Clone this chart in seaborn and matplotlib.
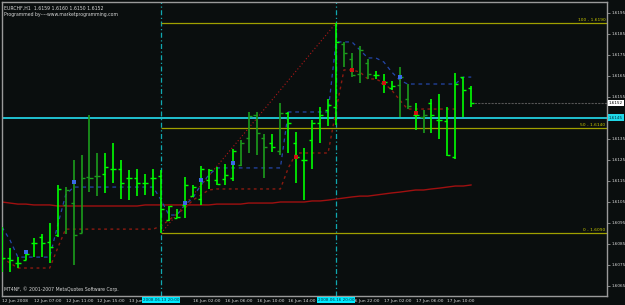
import numpy as np
import pandas as pd
import matplotlib
matplotlib.use("Agg")
import matplotlib.pyplot as plt
import matplotlib.transforms as mtransforms
import seaborn as sns

# ---------------- data ----------------
title_line = "EURCHF,H1  1.6159 1.6160 1.6150 1.6152"
sub_line = "Programmed by----www.marketprogramming.com"
copyright_line = "MT4NF, \u00a9 2001-2007 MetaQuotes Software Corp."

opens = [1.60773, 1.60781, 1.60760, 1.60773, 1.60852, 1.60884, 1.60860, 1.60892, 1.61034, 1.61042,
         1.60903, 1.61169, 1.61172, 1.61180, 1.61208, 1.61208, 1.61161, 1.61161, 1.61140, 1.61161,
         1.61172, 1.60963, 1.60974, 1.61034, 1.61077, 1.61061, 1.61153, 1.61153, 1.61156, 1.61161,
         1.61224, 1.61351, 1.61462, 1.61351, 1.61331, 1.61293, 1.61470, 1.61331, 1.61248, 1.61343,
         1.61423, 1.61486, 1.61502, 1.61800, 1.61727, 1.61660, 1.61711, 1.61652, 1.61613, 1.61589,
         1.61605, 1.61541, 1.61462, 1.61454, 1.61518, 1.61439, 1.61436, 1.61261, 1.61642, 1.61590]
highs = [1.60931, 1.60828, 1.60789, 1.60820, 1.60876, 1.60899, 1.60947, 1.61129, 1.61121, 1.61248,
         1.61272, 1.61462, 1.61280, 1.61280, 1.61331, 1.61251, 1.61201, 1.61208, 1.61180, 1.61208,
         1.61201, 1.61029, 1.61018, 1.61169, 1.61129, 1.61220, 1.61208, 1.61216, 1.61229, 1.61299,
         1.61346, 1.61478, 1.61478, 1.61372, 1.61372, 1.61518, 1.61478, 1.61381, 1.61308, 1.61438,
         1.61499, 1.61541, 1.61900, 1.61811, 1.61756, 1.61790, 1.61727, 1.61671, 1.61657, 1.61624,
         1.61692, 1.61608, 1.61518, 1.61486, 1.61541, 1.61562, 1.61499, 1.61661, 1.61642, 1.61600]
lows = [1.60717, 1.60717, 1.60733, 1.60773, 1.60789, 1.60789, 1.60757, 1.60884, 1.60899, 1.60749,
        1.60903, 1.61098, 1.61077, 1.61090, 1.61140, 1.61061, 1.61058, 1.61077, 1.61082, 1.61077,
        1.60900, 1.60960, 1.60971, 1.60971, 1.61074, 1.61034, 1.61109, 1.61129, 1.61129, 1.61150,
        1.61220, 1.61283, 1.61272, 1.61161, 1.61288, 1.61272, 1.61280, 1.61140, 1.61058, 1.61208,
        1.61331, 1.61410, 1.61415, 1.61692, 1.61641, 1.61613, 1.61632, 1.61632, 1.61568, 1.61581,
        1.61454, 1.61489, 1.61391, 1.61378, 1.61378, 1.61347, 1.61269, 1.61252, 1.61455, 1.61500]
closes = [1.60781, 1.60773, 1.60760, 1.60801, 1.60852, 1.60852, 1.60836, 1.61110, 1.61106, 1.60892,
          1.61161, 1.61161, 1.61172, 1.61216, 1.61204, 1.61140, 1.61161, 1.61137, 1.61140, 1.61161,
          1.61018, 1.61029, 1.60980, 1.61129, 1.61121, 1.61208, 1.61201, 1.61134, 1.61177, 1.61291,
          1.61331, 1.61457, 1.61375, 1.61312, 1.61312, 1.61470, 1.61423, 1.61264, 1.61248, 1.61426,
          1.61462, 1.61510, 1.61811, 1.61756, 1.61652, 1.61771, 1.61660, 1.61652, 1.61621, 1.61600,
          1.61645, 1.61505, 1.61462, 1.61462, 1.61462, 1.61439, 1.61272, 1.61608, 1.61581, 1.61520]

moving_avg = [1.61049, 1.61044, 1.61039, 1.61039, 1.61035, 1.61035, 1.61035, 1.61030, 1.61030, 1.61030,
              1.61030, 1.61030, 1.61030, 1.61030, 1.61030, 1.61030, 1.61030, 1.61030, 1.61035, 1.61035,
              1.61035, 1.61035, 1.61035, 1.61035, 1.61035, 1.61035, 1.61035, 1.61039, 1.61039, 1.61039,
              1.61039, 1.61044, 1.61044, 1.61044, 1.61044, 1.61049, 1.61049, 1.61049, 1.61049, 1.61054,
              1.61054, 1.61058, 1.61063, 1.61068, 1.61073, 1.61077, 1.61077, 1.61082, 1.61087, 1.61092,
              1.61096, 1.61101, 1.61106, 1.61106, 1.61111, 1.61115, 1.61120, 1.61125, 1.61125, 1.61130]

channel_upper = [1.60930, 1.60868, 1.60787, 1.60787, 1.60787, 1.60787, 1.60787, 1.60939, 1.61082, 1.61120,
                 1.61120, 1.61120, 1.61120, 1.61120, 1.61120, 1.61120, 1.61120, 1.61120, 1.61120, 1.61120,
                 1.61058, 1.60987, 1.60987, 1.61035, 1.61068, 1.61130, 1.61177, 1.61211, 1.61211, 1.61211,
                 1.61211, 1.61211, 1.61211, 1.61211, 1.61211, 1.61211, 1.61477, 1.61477, 1.61477, 1.61477,
                 1.61477, 1.61477, 1.61810, 1.61810, 1.61810, 1.61772, 1.61734, 1.61734, 1.61715, 1.61667,
                 1.61629, 1.61610, 1.61610, 1.61610, 1.61610, 1.61610, 1.61610, 1.61610, 1.61643, 1.61643]
channel_lower = [1.60783, 1.60759, 1.60735, 1.60735, 1.60735, 1.60735, 1.60735, 1.60830, 1.60920, 1.60920,
                 1.60920, 1.60920, 1.60920, 1.60920, 1.60920, 1.60920, 1.60920, 1.60920, 1.60920, 1.60920,
                 1.60935, 1.60963, 1.60992, 1.61020, 1.61058, 1.61082, 1.61106, 1.61111, 1.61111, 1.61111,
                 1.61111, 1.61111, 1.61111, 1.61111, 1.61111, 1.61111, 1.61211, 1.61282, 1.61282, 1.61282,
                 1.61282, 1.61282, 1.61486, 1.61677, 1.61677, 1.61667, 1.61634, 1.61634, 1.61615, 1.61581,
                 1.61534, 1.61491, 1.61491, 1.61491, 1.61491, 1.61491, 1.61491, 1.61491, np.nan, np.nan]

dark_bars = [8, 9, 10, 11, 12, 30, 31, 32, 33, 35, 43, 44, 45, 46, 50, 51, 53]

blue_dot_bars = [3, 9, 23, 25, 29, 50]
blue_dot_prices = [1.60811, 1.61144, 1.61044, 1.61153, 1.61234, 1.61643]
red_dot_bars = [37, 44, 48, 52]
red_dot_prices = [1.61263, 1.61677, 1.61615, 1.61472]

fib_levels = [1.6190, 1.6140, 1.6090]
fib_names = ["100", "50", "0"]
fib_start_bar = 20
fib_end_bar = 42

cyan_price = 1.6145
bid_price = 1.6152
vline_bars = [20, 42]
vline_labels = ["2008.06.13 20:00", "2008.06.16 20:00"]

time_tick_bars = [0, 4, 8, 12, 16, 24, 28, 32, 36, 44, 48, 52, 56]
time_tick_labels = ["12 Jun 2008", "12 Jun 07:00", "12 Jun 11:00", "12 Jun 15:00", "13 Jun 19:00",
                    "16 Jun 02:00", "16 Jun 06:00", "16 Jun 10:00", "16 Jun 14:00", "16 Jun 22:00",
                    "17 Jun 02:00", "17 Jun 06:00", "17 Jun 10:00"]
price_ticks = [1.6195, 1.6185, 1.6175, 1.6165, 1.6155, 1.6135, 1.6125, 1.6115,
               1.6105, 1.6095, 1.6085, 1.6075, 1.6065]

# ---------------- style ----------------
sns.set_theme(style="dark")
plt.rcParams['font.family'] = ['DejaVu Sans']
BG = '#0a0e0e'
FG = '#d8d8d8'
SPINE = '#9a9a9a'
LIME = '#00ff00'
DARKG = '#1c9c1c'

fig = plt.figure(figsize=(6.25, 3.05), dpi=100, facecolor=BG)
ax = fig.add_axes([2 / 625, 9 / 305, 605 / 625, 294 / 305])
ax.set_facecolor(BG)
ax.grid(False)
for s in ax.spines.values():
    s.set_color(SPINE)
    s.set_linewidth(1.0)

n = len(opens)
xs = np.arange(n)
df = pd.DataFrame({"bar": xs, "open": opens, "high": highs, "low": lows, "close": closes,
                   "ma": moving_avg, "up": channel_upper, "lo": channel_lower})

# cyan horizontal & vertical lines
ax.axhline(cyan_price, color='#20c0d0', lw=1.4, zorder=1)
for b in vline_bars:
    ax.axvline(b, color='#10a8b0', lw=0.9, linestyle=(0, (4, 2, 1, 2)), zorder=1)

# fibonacci
for lev, nm in zip(fib_levels, fib_names):
    ax.hlines(lev, fib_start_bar, 76.5, color='#a0a000', lw=0.9, zorder=1)
    ax.text(75.85, lev + 0.00005, f"{nm} - {lev:.4f}", color='#c8c800', fontsize=3.2,
            ha='right', va='bottom', zorder=6)
sns.lineplot(x=[fib_start_bar, fib_end_bar], y=[fib_levels[2], fib_levels[0]], ax=ax,
             color='#b01818', lw=0.8, linestyle=(0, (1, 2)), zorder=2)

# bid line
ax.hlines(bid_price, n - 1, 76.5, color='#555555', lw=0.8, linestyle=(0, (2, 1)), zorder=1)

# moving average
sns.lineplot(data=df, x="bar", y="ma", ax=ax, color='#a01010', lw=1.0, estimator=None, zorder=2)
# price channel
sns.lineplot(data=df, x="bar", y="up", ax=ax, color='#2446a8', lw=0.9, estimator=None,
             linestyle=(0, (3, 3)), zorder=2)
sns.lineplot(data=df.dropna(), x="bar", y="lo", ax=ax, color='#8a1a10', lw=1.0, estimator=None,
             linestyle=(0, (2, 2.5)), zorder=2)

# bars
cols = [DARKG if i in dark_bars else LIME for i in range(n)]
ax.vlines(xs, lows, highs, colors=cols, lw=1.2, zorder=3)
ax.hlines(opens, xs - 0.38, xs, colors=cols, lw=1.0, zorder=3)
ax.hlines(closes, xs, xs + 0.38, colors=cols, lw=1.0, zorder=3)

# dots
sns.scatterplot(x=blue_dot_bars, y=blue_dot_prices, ax=ax, color='#3a6ae8', marker='s', s=9,
                linewidth=0, zorder=4)
sns.scatterplot(x=red_dot_bars, y=red_dot_prices, ax=ax, color='#d01010', marker='s', s=9,
                linewidth=0, zorder=4)

ax.set_xlim(0.063, 76.07)
ax.set_ylim(1.60602, 1.62000)
ax.set_xlabel("")
ax.set_ylabel("")

# axes ticks
ax.yaxis.tick_right()
ax.set_yticks(price_ticks)
ax.set_yticklabels([f"{p:.4f}" for p in price_ticks])
ax.tick_params(axis='y', colors=SPINE, labelcolor=FG, labelsize=3.0, length=2, width=0.6,
               direction='out', pad=1.0)
ax.set_xticks(time_tick_bars)
ax.set_xticklabels(time_tick_labels)
ax.tick_params(axis='x', colors=SPINE, labelcolor=FG, labelsize=3.2, length=2, width=0.6,
               direction='out', pad=0.5)
for lab in ax.get_xticklabels():
    lab.set_horizontalalignment('left')

# texts
ax.text(0.004, 0.988, title_line, transform=ax.transAxes, color=FG, fontsize=3.3, va='top', ha='left')
ax.text(0.004, 0.966, sub_line, transform=ax.transAxes, color=FG, fontsize=3.3, va='top', ha='left')
ax.text(0.004, 0.012, copyright_line, transform=ax.transAxes, color=FG, fontsize=3.3, va='bottom', ha='left')

trans_y = mtransforms.blended_transform_factory(ax.transAxes, ax.transData)
ax.text(1.003, bid_price, f"{bid_price:.4f}", transform=trans_y, color='black', fontsize=3.0,
        va='center', ha='left', clip_on=False, zorder=10,
        bbox=dict(boxstyle='square,pad=0.3', fc='white', ec='none'))
ax.text(1.003, cyan_price, f"{cyan_price:.4f}", transform=trans_y, color='#003040', fontsize=3.0,
        va='center', ha='left', clip_on=False, zorder=10,
        bbox=dict(boxstyle='square,pad=0.3', fc='#20d8e8', ec='none'))

trans_x = mtransforms.blended_transform_factory(ax.transData, ax.transAxes)
for b, lab in zip(vline_bars, vline_labels):
    ax.text(b, -0.007, lab, transform=trans_x, color='#003040', fontsize=3.0, va='top', ha='center',
            clip_on=False, zorder=10, bbox=dict(boxstyle='square,pad=0.25', fc='#00eaff', ec='none'))

fig.savefig("out.png", dpi=100, facecolor=BG)
